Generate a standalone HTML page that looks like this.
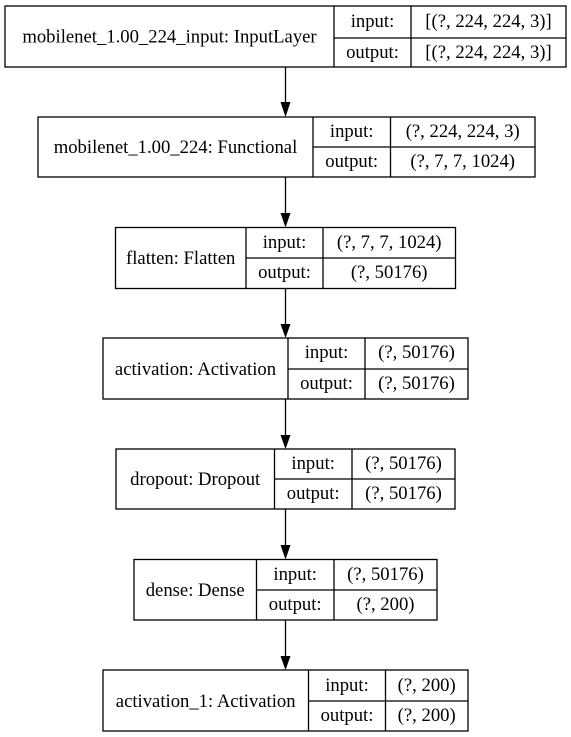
<!DOCTYPE html>
<html><head><meta charset="utf-8"><style>
html,body{margin:0;padding:0;background:#fff;}
svg{display:block;}
</style></head><body>
<svg width="571" height="737" viewBox="0 0 571 737" xmlns="http://www.w3.org/2000/svg" style="font-family:'Liberation Serif','Times New Roman',Times,serif;font-size:18.67px;">
<g fill="none" stroke="#000" stroke-width="1.3">
<rect x="5" y="6" width="561" height="61"/>
<line x1="334" y1="6" x2="334" y2="67"/><line x1="411" y1="6" x2="411" y2="67"/><line x1="334" y1="38" x2="566" y2="38"/>
<rect x="38" y="117" width="497" height="60"/>
<line x1="313" y1="117" x2="313" y2="177"/><line x1="390.5" y1="117" x2="390.5" y2="177"/><line x1="313" y1="147" x2="535" y2="147"/>
<rect x="115.5" y="227.5" width="340" height="61"/>
<line x1="246" y1="227.5" x2="246" y2="288.5"/><line x1="323" y1="227.5" x2="323" y2="288.5"/><line x1="246" y1="258" x2="455.5" y2="258"/>
<rect x="103" y="338" width="365" height="61"/>
<line x1="288" y1="338" x2="288" y2="399"/><line x1="365" y1="338" x2="365" y2="399"/><line x1="288" y1="369" x2="468" y2="369"/>
<rect x="116" y="449" width="339" height="60"/>
<line x1="274.5" y1="449" x2="274.5" y2="509"/><line x1="352" y1="449" x2="352" y2="509"/><line x1="274.5" y1="479" x2="455" y2="479"/>
<rect x="134" y="559.5" width="303" height="60.5"/>
<line x1="256.5" y1="559.5" x2="256.5" y2="620"/><line x1="334" y1="559.5" x2="334" y2="620"/><line x1="256.5" y1="590" x2="437" y2="590"/>
<rect x="103" y="670" width="365" height="61"/>
<line x1="308.5" y1="670" x2="308.5" y2="731"/><line x1="385.5" y1="670" x2="385.5" y2="731"/><line x1="308.5" y1="701" x2="468" y2="701"/>
<line x1="285.5" y1="67" x2="285.5" y2="103"/>
<line x1="285.5" y1="177" x2="285.5" y2="214"/>
<line x1="285.5" y1="288.5" x2="285.5" y2="325"/>
<line x1="285.5" y1="399" x2="285.5" y2="436"/>
<line x1="285.5" y1="509" x2="285.5" y2="546"/>
<line x1="285.5" y1="620" x2="285.5" y2="657"/>
</g>
<g fill="#000">
<polygon points="280.5,102 290.5,102 285.5,117"/>
<polygon points="280.5,213 290.5,213 285.5,227.5"/>
<polygon points="280.5,324 290.5,324 285.5,338"/>
<polygon points="280.5,435 290.5,435 285.5,449"/>
<polygon points="280.5,545 290.5,545 285.5,559.5"/>
<polygon points="280.5,656 290.5,656 285.5,670"/>
</g>
<g text-anchor="middle" fill="#000" font-family="Liberation Serif, Times New Roman, serif" font-size="18.67">
<text x="169.5" y="42.5">mobilenet_1.00_224_input: InputLayer</text>
<text x="372.5" y="27">input:</text><text x="372.5" y="58">output:</text>
<text x="488.5" y="27">[(?, 224, 224, 3)]</text><text x="488.5" y="58">[(?, 224, 224, 3)]</text>

<text x="175.5" y="153">mobilenet_1.00_224: Functional</text>
<text x="351.7" y="137">input:</text><text x="351.7" y="167">output:</text>
<text x="462.7" y="137">(?, 224, 224, 3)</text><text x="462.7" y="167">(?, 7, 7, 1024)</text>

<text x="180.7" y="264">flatten: Flatten</text>
<text x="284.5" y="248">input:</text><text x="284.5" y="278">output:</text>
<text x="389.2" y="248">(?, 7, 7, 1024)</text><text x="389.2" y="278">(?, 50176)</text>

<text x="195.5" y="375">activation: Activation</text>
<text x="326.5" y="358">input:</text><text x="326.5" y="389">output:</text>
<text x="416.5" y="358">(?, 50176)</text><text x="416.5" y="389">(?, 50176)</text>

<text x="195.2" y="485">dropout: Dropout</text>
<text x="313.2" y="469">input:</text><text x="313.2" y="499">output:</text>
<text x="403.5" y="469">(?, 50176)</text><text x="403.5" y="499">(?, 50176)</text>

<text x="195.2" y="596">dense: Dense</text>
<text x="295.2" y="580">input:</text><text x="295.2" y="610">output:</text>
<text x="385.5" y="580">(?, 50176)</text><text x="385.5" y="610">(?, 200)</text>

<text x="205.7" y="707">activation_1: Activation</text>
<text x="347" y="691">input:</text><text x="347" y="721">output:</text>
<text x="426.7" y="691">(?, 200)</text><text x="426.7" y="721">(?, 200)</text>
</g>
</svg>
</body></html>
